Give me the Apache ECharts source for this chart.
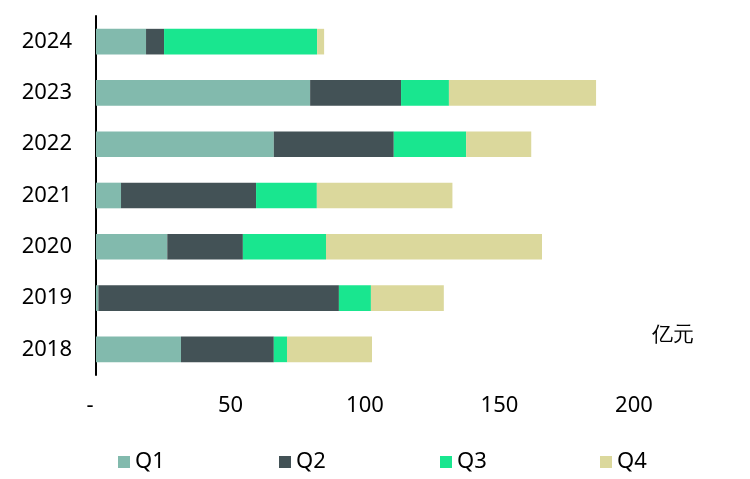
<!DOCTYPE html>
<html><head><meta charset="utf-8">
<script src="https://cdn.jsdelivr.net/npm/echarts@6/dist/echarts.min.js"></script>
<style>html,body{margin:0;padding:0;background:#fff}#c{width:750px;height:479px}</style>
</head><body><div id="c"></div>
<script>
const years = ['2018','2019','2020','2021','2022','2023','2024'];
const q1 = [31.6, 0.9, 26.5, 9.3, 66.1, 79.6, 18.6];
const q2 = [34.5, 89.4, 28.1, 50.2, 44.6, 33.8, 6.7];
const q3 = [4.9, 11.9, 30.9, 22.6, 26.9, 17.8, 56.9];
const q4 = [31.6, 27.1, 80.3, 50.4, 24.2, 54.7, 2.6];
const seriesNames = ['Q1','Q2','Q3','Q4'];
const colors = ['#82BAAD','#435256','#19E68F','#DBD89C'];
const xTicks = [0, 50, 100, 150, 200];
const unitLabel = '亿元';

const font = '"Noto Sans", "Noto Sans CJK SC", sans-serif';
const chart = echarts.init(document.getElementById('c'));
const dataSets = [q1, q2, q3, q4];
const legendLefts = [113, 274, 435, 595];
chart.setOption({
  animation: false,
  textStyle: {fontFamily: font},
  grid: {left: 96, right: 116, top: 16, bottom: 104, containLabel: false},
  xAxis: {
    type: 'value', min: xTicks[0], max: xTicks[xTicks.length-1], interval: 50,
    axisLine: {show: false}, axisTick: {show: false}, splitLine: {show: false},
    axisLabel: {
      margin: 20, fontSize: 22, color: '#000', fontFamily: font,
      formatter: v => v === 0 ? '{a|-}' : String(v),
      rich: {a: {fontSize: 22, color: '#000', padding: [0, 12, 0, 0], fontFamily: font}}
    }
  },
  yAxis: {
    type: 'category', data: years,
    axisLine: {show: true, lineStyle: {color: '#000', width: 2}},
    axisTick: {show: false},
    axisLabel: {fontSize: 22, color: '#000', margin: 24, fontFamily: font}
  },
  legend: seriesNames.map((n, i) => ({
    data: [n], left: legendLefts[i], top: 446, itemWidth: 12, itemHeight: 12, itemGap: 6,
    icon: 'rect', textStyle: {fontSize: 22, color: '#000', fontFamily: font}
  })),
  graphic: [{type: 'text', left: 652, top: 325, style: {text: unitLabel, fontSize: 21, fill: '#000', font: '21px "Noto Sans CJK SC", sans-serif'}}],
  series: seriesNames.map((n, i) => ({
    name: n, type: 'bar', stack: 'total', data: dataSets[i], barWidth: '50%',
    itemStyle: {color: colors[i]}
  }))
});
</script></body></html>
